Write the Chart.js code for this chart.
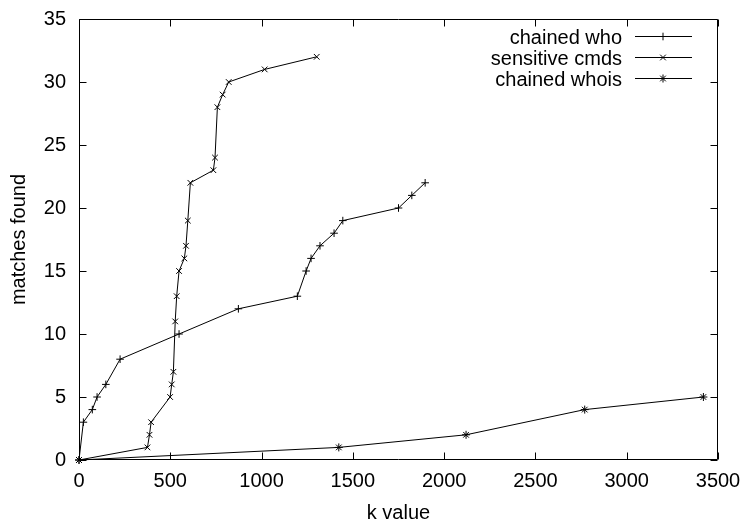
<!DOCTYPE html>
<html>
<head>
<meta charset="utf-8">
<script src="https://cdn.jsdelivr.net/npm/chart.js@4.4.1/dist/chart.umd.min.js"></script>
<style>
html,body{margin:0;padding:0;background:#fff;}
#c{display:block;}
</style>
</head>
<body>
<canvas id="c" width="741" height="520"></canvas>
<script>
// ---- data ----
const seriesNames = ["chained who", "sensitive cmds", "chained whois"];
const whoX = [0, 24, 73, 99, 147, 225, 548, 873, 1196, 1244, 1271, 1320, 1397, 1445, 1750, 1823, 1896];
const whoY = [0, 3, 4, 5, 6, 8, 10, 12, 13, 15, 16, 17, 18, 19, 20, 21, 22];
const cmdsX = [0, 375, 386, 395, 499, 508, 517, 527, 535, 548, 577, 586, 596, 610, 736, 745, 758, 787, 820, 1017, 1302];
const cmdsY = [0, 1, 2, 3, 5, 6, 7, 11, 13, 15, 16, 17, 19, 22, 23, 24, 28, 29, 30, 31, 32];
const whoisX = [0, 1423, 2120, 2770, 3420];
const whoisY = [0, 1, 2, 4, 5];
const xTicks = [0, 500, 1000, 1500, 2000, 2500, 3000, 3500];
const yTicks = [0, 5, 10, 15, 20, 25, 30, 35];
const xTitle = "k value";
const yTitle = "matches found";

const FONT = '"Liberation Sans", Arial, Helvetica, sans-serif';
const FS = 20;

function pts(xs, ys) { return xs.map((x, i) => ({x: x, y: ys[i]})); }

const styles = ['cross', 'crossRot', 'star'];
const radii = [3.8, 4, 4];

const datasets = [
  {label: seriesNames[0], data: pts(whoX, whoY)},
  {label: seriesNames[1], data: pts(cmdsX, cmdsY)},
  {label: seriesNames[2], data: pts(whoisX, whoisY)}
].map((d, i) => Object.assign(d, {
  showLine: true,
  borderColor: '#000',
  backgroundColor: '#000',
  borderWidth: 1,
  pointStyle: styles[i],
  pointRadius: radii[i],
  pointHoverRadius: radii[i],
  pointBorderColor: '#000',
  pointBorderWidth: 1,
  tension: 0,
  clip: false
}));

function drawMarker(ctx, style, r, x, y) {
  if (Chart.helpers && Chart.helpers.drawPoint) {
    Chart.helpers.drawPoint(ctx, {pointStyle: style, radius: r, rotation: 0, borderWidth: 1}, x, y);
  }
}

function zeroPad(s) { s.paddingLeft = 0; s.paddingRight = 0; s.paddingTop = 0; s.paddingBottom = 0; }

const framePlugin = {
  id: 'frame',
  afterDraw(chart) {
    const ctx = chart.ctx;
    const a = chart.chartArea;
    const xs = chart.scales.x, ys = chart.scales.y;
    const L = Math.round(a.left) + 0.5, R = Math.round(a.right) - 0.5;
    const T = Math.round(a.top) + 0.5, B = Math.round(a.bottom) - 0.5;
    const tl = 7;
    ctx.save();
    ctx.strokeStyle = '#000';
    ctx.lineWidth = 1;
    ctx.beginPath();
    ctx.rect(L, T, R - L, B - T);
    xTicks.forEach(v => {
      const p = Math.round(xs.getPixelForValue(v)) + 0.5;
      ctx.moveTo(p, B); ctx.lineTo(p, B - tl);
      ctx.moveTo(p, T); ctx.lineTo(p, T + tl);
    });
    yTicks.forEach(v => {
      const p = Math.round(ys.getPixelForValue(v)) + 0.5;
      ctx.moveTo(L, p); ctx.lineTo(L + tl, p);
      ctx.moveTo(R, p); ctx.lineTo(R - tl, p);
    });
    ctx.stroke();

    // axis titles
    ctx.fillStyle = '#000';
    ctx.font = FS + 'px ' + FONT;
    ctx.textAlign = 'center';
    ctx.textBaseline = 'alphabetic';
    ctx.fillText(xTitle, (a.left + a.right) / 2, 519);
    ctx.save();
    ctx.translate(25, (a.top + a.bottom) / 2);
    ctx.rotate(-Math.PI / 2);
    ctx.fillText(yTitle, 0, 0);
    ctx.restore();

    // legend (gnuplot style, top right)
    chart.data.datasets.forEach((d, i) => {
      const y = Math.round(a.top + 17 + i * 21) + 0.5;
      ctx.textAlign = 'right';
      ctx.textBaseline = 'alphabetic';
      ctx.fillStyle = '#000';
      ctx.fillText(d.label, a.right - 96, y + 7);
      ctx.beginPath();
      ctx.moveTo(a.right - 83, y);
      ctx.lineTo(a.right - 26, y);
      ctx.stroke();
      drawMarker(ctx, d.pointStyle, d.pointRadius, a.right - 55, y);
    });
    ctx.restore();
  }
};

new Chart(document.getElementById('c'), {
  type: 'scatter',
  data: {datasets: datasets},
  options: {
    responsive: false,
    animation: false,
    devicePixelRatio: 1,
    layout: {padding: {left: 0, top: 19, right: 23, bottom: 0}},
    plugins: {legend: {display: false}, tooltip: {enabled: false}, title: {display: false}},
    scales: {
      x: {
        type: 'linear', min: 0, max: 3500,
        afterBuildTicks(s) { s.ticks = xTicks.map(v => ({value: v})); },
        afterFit(s) { s.height = 60; zeroPad(s); },
        grid: {display: false, drawTicks: false},
        border: {display: false},
        ticks: {color: '#000', padding: 9, maxRotation: 0, autoSkip: false,
                callback: v => String(v),
                font: {family: FONT, size: FS}}
      },
      y: {
        type: 'linear', min: 0, max: 35,
        afterBuildTicks(s) { s.ticks = yTicks.map(v => ({value: v})); },
        afterFit(s) { s.width = 79; zeroPad(s); },
        grid: {display: false, drawTicks: false},
        border: {display: false},
        ticks: {color: '#000', padding: 13, autoSkip: false,
                callback: v => String(v),
                font: {family: FONT, size: FS}}
      }
    }
  },
  plugins: [framePlugin]
});
</script>
</body>
</html>
